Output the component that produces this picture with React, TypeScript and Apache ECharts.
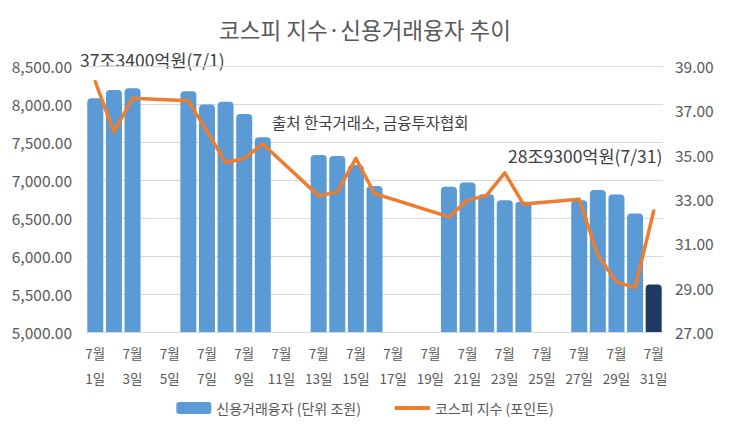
import React, { useEffect, useRef } from "react";
import * as echarts from "echarts";

const days = Array.from({ length: 31 }, (_, i) => i + 1);
const categories = days.map((d) => `7월\n${d}일`);

// Bars (left axis)
const barValues: (number | null)[] = [
  8075, 8184, 8206, null, null, 8167, 7995, 8030, 7868, 7561,
  null, null, 7328, 7315, 7196, 6920, null, null, null, 6911,
  6968, 6814, 6735, 6713, null, null, 6735, 6867, 6810, 6560,
  5625,
];

// Line (right axis)
const lineValues: (number | null)[] = [
  38.29, 36.03, 37.54, null, null, 37.43, 36.05, 34.65, 34.83, 35.48,
  null, null, 33.14, 33.32, 34.83, 33.25, null, null, null, 32.19,
  32.95, 33.14, 34.18, 32.77, null, null, 32.99, 30.46, 29.26, 29.0,
  32.46,
];

const barName = "신용거래융자 (단위 조원)";
const lineName = "코스피 지수 (포인트)";
const titleText = "코스피 지수·신용거래융자 추이";
const noteStart = "37조3400억원(7/1)";
const noteEnd = "28조9300억원(7/31)";
const noteSource = "출처 한국거래소, 금융투자협회";

const FONT = "'Noto Sans CJK KR', 'Noto Sans', sans-serif";

export default function App() {
  const ref = useRef<HTMLDivElement>(null);
  useEffect(() => {
    document.body.style.margin = "0";
    if (!ref.current) return;
    const chart = echarts.init(ref.current, undefined, { renderer: "svg" });
    chart.setOption({
      animation: false,
      backgroundColor: "#ffffff",
      textStyle: { fontFamily: FONT },
      title: {
        text: titleText,
        left: "center",
        top: 13,
        textStyle: { fontFamily: FONT, fontSize: 22.5, fontWeight: "normal", color: "#595959" },
      },
      legend: {
        bottom: 12,
        left: "center",
        itemWidth: 35,
        itemHeight: 12,
        itemGap: 34,
        textStyle: { fontFamily: FONT, fontSize: 14, color: "#595959" },
        data: [
          { name: barName, icon: "roundRect" },
          { name: lineName, icon: "path://M0,0 L32,0 L32,3.5 L0,3.5 Z" },
        ],
      },
      grid: { left: 86, right: 67, top: 66, bottom: 100 },
      xAxis: {
        type: "category",
        data: categories,
        axisTick: { show: false },
        axisLine: { lineStyle: { color: "#d9d9d9" } },
        axisLabel: {
          interval: 1,
          color: "#595959",
          fontSize: 13.5,
          lineHeight: 25,
          margin: 8,
          fontFamily: FONT,
        },
      },
      yAxis: [
        {
          type: "value",
          min: 5000,
          max: 8500,
          interval: 500,
          axisLine: { show: false },
          axisTick: { show: false },
          splitLine: { lineStyle: { color: "#d9d9d9" } },
          axisLabel: {
            color: "#595959",
            fontSize: 15.5,
            margin: 14,
            fontFamily: FONT,
            formatter: (v: number) =>
              v.toLocaleString("en-US", { minimumFractionDigits: 2, maximumFractionDigits: 2 }),
          },
        },
        {
          type: "value",
          min: 27,
          max: 39,
          interval: 2,
          axisLine: { show: false },
          axisTick: { show: false },
          splitLine: { show: false },
          axisLabel: {
            color: "#595959",
            fontSize: 15.5,
            margin: 12,
            fontFamily: FONT,
            formatter: (v: number) => v.toFixed(2),
          },
        },
      ],
      series: [
        {
          name: barName,
          type: "bar",
          yAxisIndex: 0,
          barWidth: 16,
          itemStyle: { color: "#5b9bd5", borderRadius: [4, 4, 0, 0] },
          data: barValues.map((v, i) =>
            i === barValues.length - 1
              ? { value: v, itemStyle: { color: "#203864" } }
              : v
          ),
        },
        {
          name: lineName,
          type: "line",
          yAxisIndex: 1,
          symbol: "none",
          connectNulls: true,
          lineStyle: { color: "#ed7d31", width: 3.5, join: "round", cap: "round" },
          itemStyle: { color: "#ed7d31" },
          data: lineValues,
          z: 3,
        },
      ],
      graphic: [
        {
          type: "text",
          left: 80,
          top: 51,
          style: { text: noteStart, fontFamily: FONT, fontSize: 17.5, fill: "#404040" },
        },
        {
          type: "text",
          left: 272,
          top: 114,
          style: { text: noteSource, fontFamily: FONT, fontSize: 15.5, fill: "#404040" },
        },
        {
          type: "text",
          left: 508,
          top: 147,
          style: { text: noteEnd, fontFamily: FONT, fontSize: 17.5, fill: "#404040" },
        },
      ],
    });
    return () => chart.dispose();
  }, []);
  return (
    <div
      style={{
        width: 730,
        height: 432,
        boxSizing: "border-box",
        border: "1px solid #d9d9d9",
        position: "relative",
      }}
    >
      <div ref={ref} style={{ position: "absolute", left: -1, top: -1, width: 730, height: 432 }} />
    </div>
  );
}
